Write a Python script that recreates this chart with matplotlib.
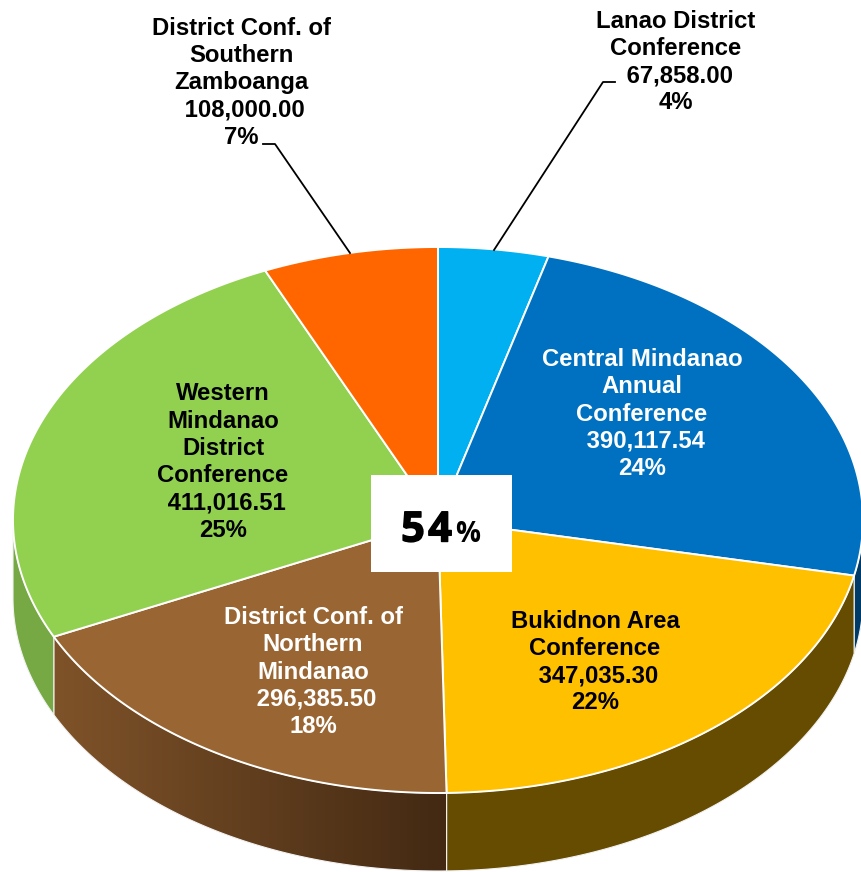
import numpy as np
import matplotlib
matplotlib.use('Agg')
import matplotlib.pyplot as plt
import matplotlib.patheffects as pe
from matplotlib.colors import LinearSegmentedColormap
from matplotlib.patches import Polygon, Rectangle

# Slices, clockwise from 12 o'clock
names = ['Lanao District\nConference', 'Central Mindanao\nAnnual\nConference',
         'Bukidnon Area\nConference', 'District Conf. of\nNorthern\nMindanao',
         'Western\nMindanao\nDistrict\nConference', 'District Conf. of\nSouthern\nZamboanga']
values = [67858.00, 390117.54, 347035.30, 296385.50, 411016.51, 108000.00]
percents = ['4%', '24%', '22%', '18%', '25%', '7%']
top_colors = ['#00B0F0', '#0070C0', '#FFC000', '#996633', '#92D050', '#FF6600']
side_colors = ['#006A90', '#003A66', '#664C00', '#6B4723', '#76A843', '#993D00']
text_colors = ['black', 'white', 'black', 'white', 'black', 'black']
center_label = '54'

# Pie geometry in pixels
cx, cy, rx, ry, depth = 438, 520, 425, 273, 78
label_pos = [(676, 62), (642, 414), (595, 662), (313, 672), (223, 462), (241, 83)]

fig = plt.figure(figsize=(8.61, 8.72), dpi=100)
ax = fig.add_axes([0, 0, 1, 1])


def arc(a0, a1, dy=0):
    t = np.radians(np.linspace(a0, a1, 200))
    return np.column_stack([cx + rx * np.sin(t), cy - ry * np.cos(t) + dy])


edges = np.concatenate([[0], np.cumsum(values)]) / np.sum(values) * 360

# Side walls, only the front half of the pie shows
for i in range(len(values)):
    a0, a1 = max(edges[i], 90), min(edges[i + 1], 270)
    if a0 >= a1:
        continue
    pts = np.vstack([arc(a0, a1), arc(a1, a0, depth)])
    if names[i].startswith('District Conf. of\nNorthern'):
        # the brown wall gets darker towards the right
        cmap = LinearSegmentedColormap.from_list('wall', ['#7F5329', '#432913'])
        im = ax.imshow(np.linspace(0, 1, 256).reshape(1, -1), cmap=cmap, aspect='auto',
                       extent=[pts[:, 0].min(), pts[:, 0].max(), pts[:, 1].max(), pts[:, 1].min()])
        clip = Polygon(pts, transform=ax.transData, fc='none', ec='none')
        ax.add_patch(clip)
        im.set_clip_path(clip)
        ax.add_patch(Polygon(pts, fc='none', ec='#F2F2F2', lw=0.8))
    else:
        ax.add_patch(Polygon(pts, fc=side_colors[i], ec='#F2F2F2', lw=0.8))

# Top face
for i in range(len(values)):
    pts = np.vstack([[cx, cy], arc(edges[i], edges[i + 1])])
    ax.add_patch(Polygon(pts, fc=top_colors[i], ec='white', lw=1.4, joinstyle='round'))

# Leader lines
ax.plot([263, 275, 350], [144, 144, 253], color='black', lw=1.3)
ax.plot([615, 603, 494], [82, 82, 250], color='black', lw=1.3)

# Slice labels
for i in range(len(values)):
    txt = f'{names[i]}\n {values[i]:,.2f}\n{percents[i]}'
    ax.text(label_pos[i][0], label_pos[i][1], txt, color=text_colors[i], family='Liberation Sans',
            fontweight='bold', fontsize=17.2, ha='center', va='center', ma='center', linespacing=1.235)

# Box in the middle
ax.add_patch(Rectangle((371, 475), 141, 97, fc='white', ec='none', zorder=5))
heavy = [pe.withStroke(linewidth=1.0, foreground='black')]
ax.text(413, 531, center_label[0], family='Open Sans', fontweight='bold', path_effects=heavy,
        fontsize=30, ha='center', va='center', color='black', zorder=6)
ax.text(440, 531, center_label[1], family='Open Sans', fontweight='bold', path_effects=heavy,
        fontsize=30, ha='center', va='center', color='black', zorder=6)
ax.text(468, 534, '%', family='Open Sans', fontweight='bold', fontsize=20,
        ha='center', va='center', color='black', zorder=6)

ax.set_xlim(0, 861)
ax.set_ylim(872, 0)
ax.axis('off')
fig.savefig('out.png', dpi=100)
